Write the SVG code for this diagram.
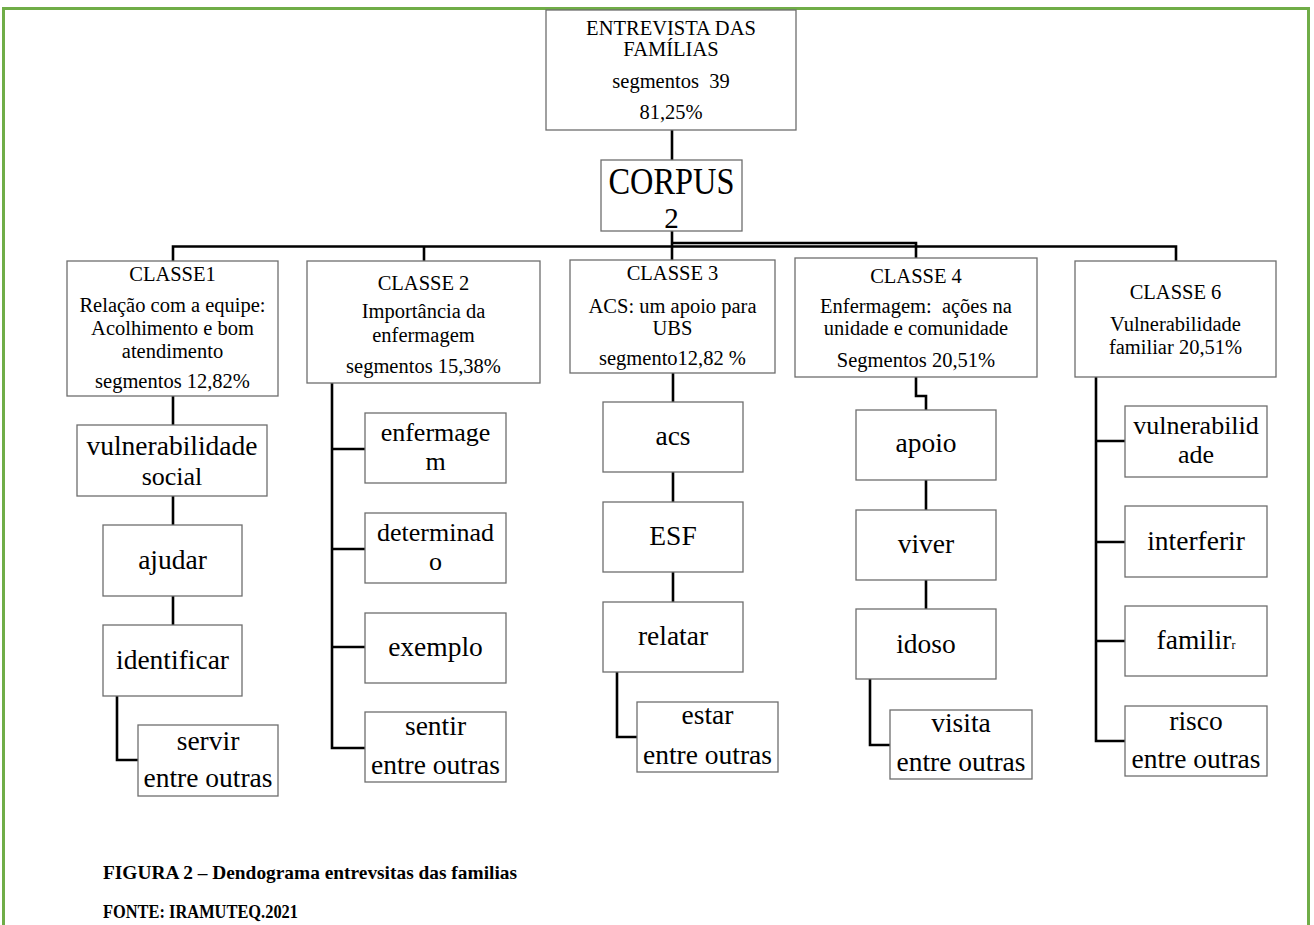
<svg xmlns="http://www.w3.org/2000/svg" width="1314" height="925" viewBox="0 0 1314 925">
<style>
  .box{fill:#fff;stroke:#6e6e6e;stroke-width:1.3}
  .conn{fill:none;stroke:#000;stroke-width:2.6}
  .frame{fill:none;stroke:#70ad47;stroke-width:3}
  text{font-family:"Liberation Serif","Times New Roman",serif;fill:#000;text-anchor:middle}
  .s{font-size:20.5px}
  .c{font-size:27.5px}
  .c2{font-size:26px}
  .cap{font-size:19.5px;font-weight:bold;text-anchor:start}
</style>
<rect x="0" y="0" width="1314" height="925" fill="#fff"/>
<path class="frame" d="M3.5,930 V8.5 H1308.5 V930"/>

<g id="connectors">
  <path class="conn" d="M672,130 V160"/>
  <path class="conn" d="M672,231 V260"/>
  <path class="conn" d="M173,261 V246.5 H1176 V261"/>
  <path class="conn" d="M424,246.5 V261"/>
  <path class="conn" d="M672,243 H916 V258"/>
  <path class="conn" d="M173,396 V425 M173,496 V525 M173,596 V625 M117,696 V760 H138"/>
  <path class="conn" d="M332,383 V748 H365 M332,449 H365 M332,549 H365 M332,647 H365"/>
  <path class="conn" d="M673,373 V402 M673,472 V502 M673,572 V602 M617,672 V737 H637"/>
  <path class="conn" d="M916,377 V396 H926 V410 M926,480 V510 M926,580 V609 M870,679 V745 H890"/>
  <path class="conn" d="M1096,377 V741 H1125 M1096,441 H1125 M1096,542 H1125 M1096,641 H1125"/>
</g>

<g id="entrevista">
  <rect class="box" x="546" y="10" width="250" height="120"/>
  <text class="s" x="671" y="35">ENTREVISTA DAS</text>
  <text class="s" x="671" y="56">FAMÍLIAS</text>
  <text class="s" x="671" y="88">segmentos&#160; 39</text>
  <text class="s" x="671" y="119">81,25%</text>
</g>
<g id="corpus">
  <rect class="box" x="601" y="160" width="141" height="71"/>
  <text x="671.5" y="194" font-size="37" textLength="126" lengthAdjust="spacingAndGlyphs">CORPUS</text>
  <text x="671.5" y="228" font-size="29">2</text>
</g>

<g id="classe1">
  <rect class="box" x="67" y="261" width="211" height="135"/>
  <text class="s" x="172.5" y="281">CLASSE1</text>
  <text class="s" x="172.5" y="312">Relação com a equipe:</text>
  <text class="s" x="172.5" y="335">Acolhimento e bom</text>
  <text class="s" x="172.5" y="358">atendimento</text>
  <text class="s" x="172.5" y="388">segmentos 12,82%</text>
</g>
<g id="classe2">
  <rect class="box" x="307" y="261" width="233" height="122"/>
  <text class="s" x="423.5" y="290">CLASSE 2</text>
  <text class="s" x="423.5" y="318">Importância da</text>
  <text class="s" x="423.5" y="342">enfermagem</text>
  <text class="s" x="423.5" y="373">segmentos 15,38%</text>
</g>
<g id="classe3">
  <rect class="box" x="570" y="260" width="205" height="113"/>
  <text class="s" x="672.5" y="280">CLASSE 3</text>
  <text class="s" x="672.5" y="313">ACS: um apoio para</text>
  <text class="s" x="672.5" y="335">UBS</text>
  <text class="s" x="672.5" y="365">segmento12,82 %</text>
</g>
<g id="classe4">
  <rect class="box" x="795" y="258" width="242" height="119"/>
  <text class="s" x="916" y="283">CLASSE 4</text>
  <text class="s" x="916" y="313">Enfermagem:&#160; ações na</text>
  <text class="s" x="916" y="335">unidade e comunidade</text>
  <text class="s" x="916" y="367">Segmentos 20,51%</text>
</g>
<g id="classe6">
  <rect class="box" x="1075" y="261" width="201" height="116"/>
  <text class="s" x="1175.5" y="299">CLASSE 6</text>
  <text class="s" x="1175.5" y="331">Vulnerabilidade</text>
  <text class="s" x="1175.5" y="354">familiar 20,51%</text>
</g>

<g id="c1-vulnerabilidade">
  <rect class="box" x="77" y="425" width="190" height="71"/>
  <text class="c"><tspan x="172" y="455" font-size="27.5px">vulnerabilidade</tspan><tspan class="c2" x="172" y="485">social</tspan></text>
</g>
<g id="c1-ajudar">
  <rect class="box" x="103" y="525" width="139" height="71"/>
  <text class="c" x="172.5" y="569">ajudar</text>
</g>
<g id="c1-identificar">
  <rect class="box" x="103" y="625" width="139" height="71"/>
  <text class="c" x="172.5" y="669">identificar</text>
</g>
<g id="c1-servir">
  <rect class="box" x="138" y="725" width="140" height="71"/>
  <text class="c" x="208" y="750">servir</text>
  <text class="c" x="208" y="787">entre outras</text>
</g>

<g id="c2-enfermagem">
  <rect class="box" x="365" y="413" width="141" height="70"/>
  <text class="c2"><tspan x="435.5" y="441">enfermage</tspan><tspan x="435.5" y="470">m</tspan></text>
</g>
<g id="c2-determinado">
  <rect class="box" x="365" y="513" width="141" height="70"/>
  <text class="c2"><tspan x="435.5" y="541">determinad</tspan><tspan x="435.5" y="570">o</tspan></text>
</g>
<g id="c2-exemplo">
  <rect class="box" x="365" y="613" width="141" height="70"/>
  <text class="c" x="435.5" y="656">exemplo</text>
</g>
<g id="c2-sentir">
  <rect class="box" x="365" y="712" width="141" height="70"/>
  <text class="c" x="435.5" y="735">sentir</text>
  <text class="c" x="435.5" y="774">entre outras</text>
</g>

<g id="c3-acs">
  <rect class="box" x="603" y="402" width="140" height="70"/>
  <text class="c" x="673" y="445">acs</text>
</g>
<g id="c3-esf">
  <rect class="box" x="603" y="502" width="140" height="70"/>
  <text class="c" x="673" y="545">ESF</text>
</g>
<g id="c3-relatar">
  <rect class="box" x="603" y="602" width="140" height="70"/>
  <text class="c" x="673" y="645">relatar</text>
</g>
<g id="c3-estar">
  <rect class="box" x="637" y="702" width="141" height="70"/>
  <text class="c" x="707.5" y="724">estar</text>
  <text class="c" x="707.5" y="764">entre outras</text>
</g>

<g id="c4-apoio">
  <rect class="box" x="856" y="410" width="140" height="70"/>
  <text class="c" x="926" y="452">apoio</text>
</g>
<g id="c4-viver">
  <rect class="box" x="856" y="510" width="140" height="70"/>
  <text class="c" x="926" y="553">viver</text>
</g>
<g id="c4-idoso">
  <rect class="box" x="856" y="609" width="140" height="70"/>
  <text class="c" x="926" y="653">idoso</text>
</g>
<g id="c4-visita">
  <rect class="box" x="890" y="710" width="142" height="69"/>
  <text class="c" x="961" y="732">visita</text>
  <text class="c" x="961" y="771">entre outras</text>
</g>

<g id="c6-vulnerabilidade">
  <rect class="box" x="1125" y="406" width="142" height="71"/>
  <text class="c2"><tspan x="1196" y="434">vulnerabilid</tspan><tspan x="1196" y="463">ade</tspan></text>
</g>
<g id="c6-interferir">
  <rect class="box" x="1125" y="506" width="142" height="71"/>
  <text class="c" x="1196" y="550">interferir</text>
</g>
<g id="c6-familir">
  <rect class="box" x="1125" y="606" width="142" height="70"/>
  <text class="c" x="1196" y="649">familir<tspan font-size="12px">r</tspan></text>
</g>
<g id="c6-risco">
  <rect class="box" x="1125" y="706" width="142" height="70"/>
  <text class="c" x="1196" y="730">risco</text>
  <text class="c" x="1196" y="768">entre outras</text>
</g>

<g id="caption">
  <text class="cap" x="103" y="879" textLength="414" lengthAdjust="spacingAndGlyphs">FIGURA 2 – Dendograma entrevsitas das familias</text>
  <text class="cap" x="103" y="918" textLength="195" lengthAdjust="spacingAndGlyphs">FONTE: IRAMUTEQ.2021</text>
</g>
</svg>
